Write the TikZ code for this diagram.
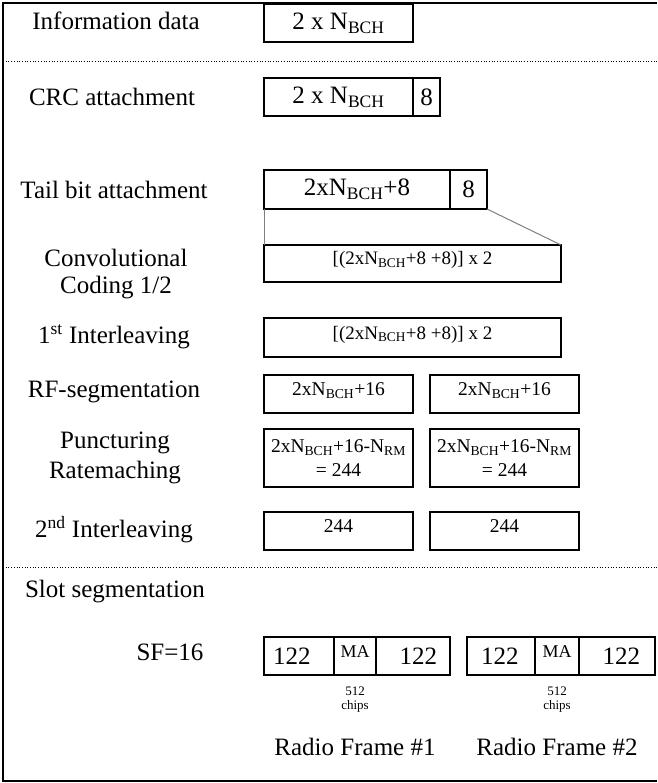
\documentclass[tikz,border=0pt]{standalone}
\usepackage{fontspec}
\setmainfont{Liberation Serif}
\usetikzlibrary{positioning}

\newcommand{\nbch}{N\textsubscript{BCH}}

\begin{document}
\begin{tikzpicture}[x=1pt, y=-1pt,
    lbl/.style={font=\fontsize{25}{27}\selectfont, align=center},
    blk/.style={rectangle, draw, line width=1.3pt, inner sep=0pt, outer sep=0pt,
                anchor=north west, minimum height=38pt, font=\fontsize{25}{27}\selectfont},
    sblk/.style={blk, font=\fontsize{19.5}{24}\selectfont, align=center},
    hightext/.style={text height=13pt, text depth=10pt},
    mablk/.style={blk, hightext, font=\fontsize{18}{18}\selectfont},
    chipsnote/.style={inner sep=0pt, align=center, font=\fontsize{13}{14}\selectfont},
    link/.style={draw=gray, line width=1pt},
    divider/.style={line width=0.9pt, dash pattern=on 0.9pt off 1.8pt},
]
\useasboundingbox (0,0) rectangle (657,783);
\draw[line width=2pt] (657,3) -- (3,3) -- (3,781) -- (657,781);
\draw[divider] (3,61) -- (657,61);
\draw[divider] (3,567) -- (657,567);

\node[lbl] (linfo) at (116,21) {Information data};
\node[lbl] (lcrc) at (112,97) {CRC attachment};
\node[lbl] (ltail) at (114,190) {Tail bit attachment};
\node[lbl] (lconv) at (116,274) {Convolutional\\Coding 1/2};
\node[lbl] (lint1) at (114,337) {1\textsuperscript{st} Interleaving};
\node[lbl] (lrf) at (114,392) {RF-segmentation};
\node[lbl, font=\fontsize{25}{30}\selectfont] (lpunct) at (115,458) {Puncturing\\Ratemaching};
\node[lbl] (lint2) at (114,530) {2\textsuperscript{nd} Interleaving};
\node[lbl] (lslot) at (115,592) {Slot segmentation};
\node[lbl] (lsf) at (170,652) {SF=16};

\node[blk, minimum width=149pt] (info) at (264,4) {2 x \nbch};
\node[blk, minimum width=149pt] (crc) at (264,78) {2 x \nbch};
\node[blk, minimum width=27pt, right=0pt of crc] (crcb) {8};
\node[blk, minimum width=186pt, minimum height=39pt] (tail) at (264,170) {2x\nbch+8};
\node[blk, minimum width=37pt, minimum height=39pt, right=0pt of tail] (tailb) {8};
\node[sblk, hightext, font=\fontsize{19}{24}\selectfont, minimum width=297pt, minimum height=37pt] (conv) at (264,245) {[(2x\nbch+8 +8)] x 2};
\draw[link] (tail.south west) -- (conv.north west);
\draw[link] (tailb.south east) -- (conv.north east);
\node[sblk, hightext, font=\fontsize{19}{24}\selectfont, minimum width=297pt, minimum height=39pt] (int1) at (264,318) {[(2x\nbch+8 +8)] x 2};

\node[sblk, hightext, minimum width=149pt] (rf1) at (264,375) {2x\nbch+16};
\node[sblk, hightext, minimum width=149pt, right=17pt of rf1] (rf2) {2x\nbch+16};
\node[sblk, minimum width=149pt, minimum height=58pt] (pr1) at (264,429) {2x\nbch+16-N\textsubscript{RM}\\= 244};
\node[sblk, minimum width=149pt, minimum height=58pt, right=17pt of pr1] (pr2) {2x\nbch+16-N\textsubscript{RM}\\= 244};
\node[sblk, hightext, minimum width=149pt] (il1) at (264,512) {244};
\node[sblk, hightext, minimum width=149pt, right=17pt of il1] (il2) {244};

\node[blk, minimum width=70pt, text width=52pt, align=left] (s1a) at (264,637) {122};
\node[mablk, minimum width=42pt, right=0pt of s1a] (ma1) {MA};
\node[blk, minimum width=74pt, text width=48pt, align=right, right=0pt of ma1] (s1b) {122};
\node[blk, minimum width=68pt, text width=40pt, align=left, right=17pt of s1b] (s2a) {122};
\node[mablk, minimum width=44pt, right=0pt of s2a] (ma2) {MA};
\node[blk, minimum width=76pt, text width=46pt, align=right, right=0pt of ma2] (s2b) {122};
\node[chipsnote, below=12pt of ma1] (c1) {512\\chips};
\node[chipsnote, below=12pt of ma2] (c2) {512\\chips};

\node[lbl, below=22pt of c1] (frame1) {Radio Frame \#1};
\node[lbl, below=22pt of c2] (frame2) {Radio Frame \#2};
\end{tikzpicture}
\end{document}
